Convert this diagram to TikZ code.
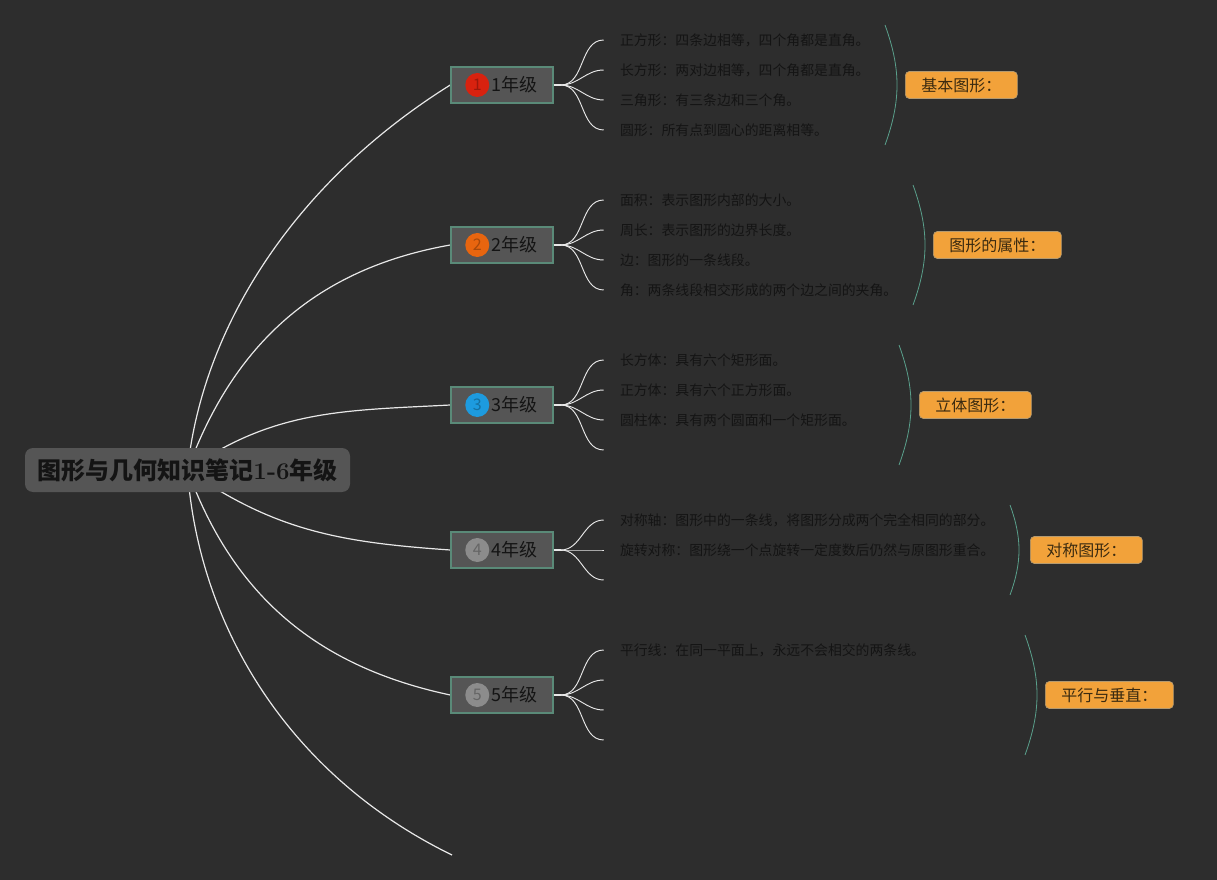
\documentclass[tikz,border=0pt]{standalone}
\usepackage{fontspec}
\newfontfamily\cjk{Noto Sans CJK SC}
\usetikzlibrary{positioning,calc}
\definecolor{bg}{HTML}{2D2D2D}
\definecolor{boxgray}{HTML}{555555}
\definecolor{gradeline}{HTML}{5A8A78}
\definecolor{ink}{HTML}{141414}
\definecolor{wire}{HTML}{E8E8E8}
\definecolor{braceline}{HTML}{5AA08C}
\definecolor{tagorange}{HTML}{F2A23A}
\definecolor{tagline}{HTML}{B49A70}
\definecolor{tagtext}{HTML}{3A2A10}
\definecolor{dotred}{HTML}{D8220F}
\definecolor{dotorange}{HTML}{E8650F}
\definecolor{dotblue}{HTML}{1D9BDF}
\definecolor{dotgray}{HTML}{8C8C8C}
\pgfdeclarelayer{back}
\pgfsetlayers{back,main}

\begin{document}
\begin{tikzpicture}[x=0.75pt,y=0.75pt,
	root/.style={fill=boxgray,rounded corners=6pt,minimum width=243.75pt,minimum height=33pt,font=\cjk\bfseries\fontsize{18}{20}\selectfont,text=ink},
	grade/.style={fill=boxgray,draw=gradeline,line width=1.1pt,minimum width=76.5pt,minimum height=27pt,inner xsep=0pt,font=\cjk\fontsize{13.5}{15}\selectfont,text=ink},
	badge/.style={circle,fill=#1,minimum size=18pt,inner sep=0pt,text=#1!72!black,font=\cjk\fontsize{12}{14}\selectfont},
	leaf/.style={anchor=west,inner xsep=12pt,inner ysep=0pt,font=\cjk\fontsize{10.4}{12}\selectfont,text=ink},
	tag/.style={fill=tagorange,draw=tagline,line width=0.5pt,rounded corners=3pt,anchor=west,inner xsep=12pt,minimum height=20.25pt,font=\cjk\fontsize{12}{14}\selectfont,text=tagtext},
	wire/.style={draw=wire,line width=0.9pt},
	twig/.style={draw=wire,line width=0.7pt},
	brace/.style={draw=braceline,line width=0.6pt}]
	\useasboundingbox (0,0) rectangle (1217,-880);
	% centre and grades
	\node[root] (root) at (187.5,-470) {图形与几何知识笔记{\rmfamily\bfseries 1-6}年级};
	\foreach \i/\y/\c in {1/85/dotred,2/245/dotorange,3/405/dotblue,4/550/dotgray,5/695/dotgray}{
		\node[grade] (g\i) at (502,-\y) {\hspace*{18pt}\i{}年级};
		\node[badge=\c] (b\i) at ($(g\i.west)+(27,0)$) {\i};
		\draw[wire,line width=1.5pt] (g\i.east) -- ++(7,0) coordinate (h\i);
	}
	\coordinate (end6) at (452,-855);
	\begin{pgfonlayer}{back}
		\fill[bg] (0,0) rectangle (1217,-880);
		\draw[wire] (root.center) to[out=84,in=212,out looseness=0.8] (g1.west);
		\foreach \i/\o/\n in {2/70/190,3/35/183,4/-35/176,5/-70/168}
			\draw[wire] (root.center) to[out=\o,in=\n] (g\i.west);
		\draw[wire] (root.center) to[out=-86,in=154,out looseness=0.85] (end6);
	\end{pgfonlayer}
	% leaves
	\foreach \t [count=\j] in {正方形：四条边相等，四个角都是直角。,长方形：两对边相等，四个角都是直角。,三角形：有三条边和三个角。,圆形：所有点到圆心的距离相等。}
		\node[leaf] (l1\j) at ($(h1)+(43,75-30*\j)$) {\t};
	\foreach \t [count=\j] in {面积：表示图形内部的大小。,周长：表示图形的边界长度。,边：图形的一条线段。,角：两条线段相交形成的两个边之间的夹角。}
		\node[leaf] (l2\j) at ($(h2)+(43,75-30*\j)$) {\t};
	\foreach \t [count=\j] in {长方体：具有六个矩形面。,正方体：具有六个正方形面。,圆柱体：具有两个圆面和一个矩形面。,{}}
		\node[leaf] (l3\j) at ($(h3)+(43,75-30*\j)$) {\t};
	\foreach \t [count=\j] in {对称轴：图形中的一条线，将图形分成两个完全相同的部分。,旋转对称：图形绕一个点旋转一定度数后仍然与原图形重合。,{}}
		\node[leaf] (l4\j) at ($(h4)+(43,60-30*\j)$) {\t};
	\foreach \t [count=\j] in {平行线：在同一平面上，永远不会相交的两条线。,{},{},{}}
		\node[leaf] (l5\j) at ($(h5)+(43,75-30*\j)$) {\t};
	\foreach \g/\n in {1/4,2/4,3/4,4/3,5/4}
		\foreach \j in {1,...,\n}
			\draw[twig] (h\g) to[out=0,in=180] (l\g\j.west);
	% summaries
	\foreach \g/\x/\h/\t in {1/885/60/基本图形：,2/913/60/图形的属性：,3/899/60/立体图形：,4/1010/45/对称图形：,5/1025/60/平行与垂直：}{
		\coordinate (c\g) at (\x,0);
		\draw[brace] ($(g\g -| c\g)+(0,\h)$) to[bend left=20] ($(g\g -| c\g)+(0,-\h)$);
		\node[tag] (s\g) at ($(g\g -| c\g)+(20,0)$) {\t};
	}
\end{tikzpicture}
\end{document}
